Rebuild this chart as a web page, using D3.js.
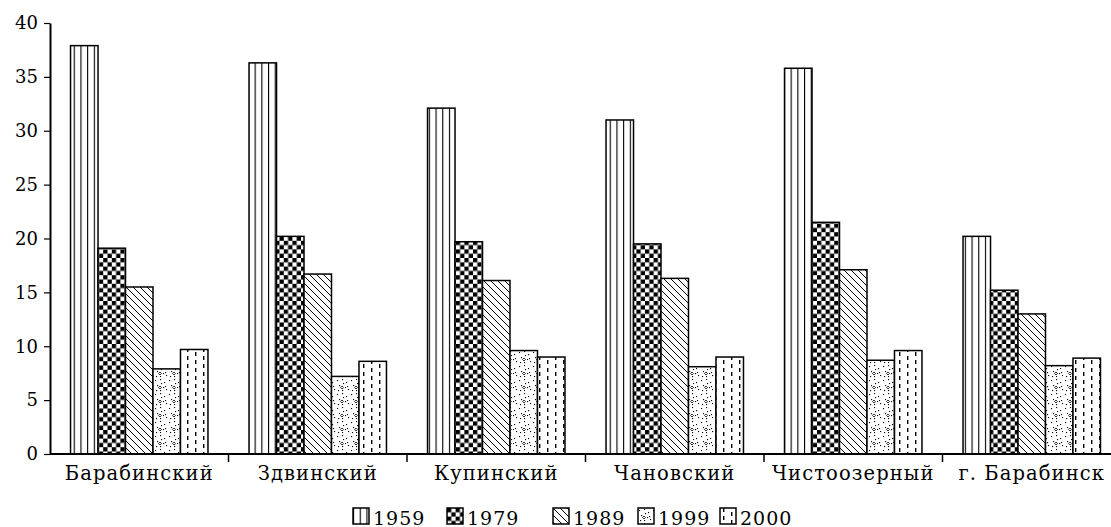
<!DOCTYPE html>
<html><head><meta charset="utf-8">
<script src="https://cdn.jsdelivr.net/npm/d3@7"></script>
<style>
body{margin:0;background:#fff;}
svg{display:block;}
text{font-family:"DejaVu Serif",serif;fill:#000;}
</style></head>
<body><svg id="chart" width="1111" height="527"></svg>
<script>
const categories = ["Барабинский","Здвинский","Купинский","Чановский","Чистоозерный","г. Барабинск"];
const years = ["1959","1979","1989","1999","2000"];
const v1959 = [37.9, 36.3, 32.1, 31.0, 35.8, 20.2];
const v1979 = [19.1, 20.2, 19.7, 19.5, 21.5, 15.2];
const v1989 = [15.5, 16.7, 16.1, 16.3, 17.1, 13.0];
const v1999 = [7.9, 7.2, 9.6, 8.1, 8.7, 8.2];
const v2000 = [9.7, 8.6, 9.0, 9.0, 9.6, 8.9];
const yTicks = [0,5,10,15,20,25,30,35,40];

const series = [v1959, v1979, v1989, v1999, v2000];
const svg = d3.select("#chart");
const defs = svg.append("defs");

// patterns
function pat(id, w, h){
  const p = defs.append("pattern").attr("id", id).attr("patternUnits","userSpaceOnUse").attr("width", w).attr("height", h);
  p.append("rect").attr("width", w).attr("height", h).attr("fill","#fff");
  return p;
}
let p = pat("p1959", 6.7, 10);
p.append("rect").attr("x",0).attr("y",0).attr("width",1.1).attr("height",10).attr("fill","#000");
p = pat("p1979", 8.6, 8.6);
p.append("rect").attr("x",0).attr("y",0).attr("width",4.3).attr("height",4.3).attr("fill","#000");
p.append("rect").attr("x",4.3).attr("y",4.3).attr("width",4.3).attr("height",4.3).attr("fill","#000");
p = pat("p1989", 7, 7);
p.append("path").attr("d","M-1,-1 L8,8 M-8,-1 L1,8 M6,-1 L15,8").attr("stroke","#000").attr("stroke-width",1);
p = pat("p1999", 14, 14);
[[1,2],[6,1],[10,4],[3,7],[9,9],[12,11],[2,12],[6,12],[7,5],[11,8]].forEach(([x,y])=>{
  p.append("rect").attr("x",x).attr("y",y).attr("width",1.1).attr("height",1.1).attr("fill","#000");
});
p.append("path").attr("d","M4.5,9.5 l1.5,-1.5 l1.5,1.5 l-1.5,1.5 z").attr("fill","none").attr("stroke","#000").attr("stroke-width",0.8);
p = pat("p2000", 16, 8);
p.append("rect").attr("x",3).attr("y",0).attr("width",1.4).attr("height",4).attr("fill","#000");
p.append("rect").attr("x",11).attr("y",4).attr("width",1.4).attr("height",4).attr("fill","#000");
const fills = ["url(#p1959)","url(#p1979)","url(#p1989)","url(#p1999)","url(#p2000)"];

const left = 50, step = 178.5;
const x0 = d3.scaleBand().domain(categories).range([left, left + step*categories.length])
  .paddingInner(0.23).paddingOuter(0.115);
const x1 = d3.scaleBand().domain(years).range([0, x0.bandwidth()]).padding(0);
const y = d3.scaleLinear().domain([0,40]).range([454, 23]);

// bars
const g = svg.append("g");
categories.forEach((c, ci) => {
  years.forEach((yr, si) => {
    const v = series[si][ci];
    g.append("rect")
      .attr("x", x0(c) + x1(yr))
      .attr("y", y(v))
      .attr("width", x1.bandwidth())
      .attr("height", y(0) - y(v))
      .attr("fill", fills[si])
      .attr("stroke", "#000").attr("stroke-width", 1.5);
  });
});

// y axis
const ya = svg.append("g").attr("transform", `translate(${left},0)`)
  .call(d3.axisLeft(y).tickValues(yTicks).tickSize(6).tickSizeOuter(0).tickPadding(6));
ya.select(".domain").attr("stroke","#000").attr("stroke-width",2);
ya.selectAll(".tick line").attr("stroke","#000").attr("stroke-width",1.2);
ya.selectAll(".tick text").style("font-family","DejaVu Serif, serif").style("font-size","18px").attr("fill","#000");

// x axis
const xa = svg.append("g").attr("transform", `translate(0,${y(0)})`)
  .call(d3.axisBottom(x0).tickSize(0).tickPadding(12));
xa.select(".domain").attr("d", `M${left},0H1111`).attr("stroke","#000").attr("stroke-width",2);
xa.selectAll(".tick text").style("font-family","DejaVu Serif, serif").style("font-size","19.5px")
  .style("letter-spacing","1.1px").attr("fill","#000");
// boundary ticks
categories.slice(0, -1).forEach(c => {
  const bx = x0(c) + x0.bandwidth() + x0.step()*x0.paddingInner()/2;
  svg.append("line").attr("x1", bx).attr("x2", bx).attr("y1", y(0)).attr("y2", y(0)+8)
    .attr("stroke","#000").attr("stroke-width",1.5);
});

// legend
const legendX = [353, 447, 553, 638, 720];
years.forEach((yr, i) => {
  const lg = svg.append("g").attr("transform", `translate(${legendX[i]},508)`);
  lg.append("rect").attr("width",16).attr("height",16).attr("fill",fills[i]).attr("stroke","#000").attr("stroke-width",1.5);
  lg.append("text").attr("x",20).attr("y",16.5).style("font-size","19px").style("letter-spacing","1px").text(yr);
});
</script></body></html>
